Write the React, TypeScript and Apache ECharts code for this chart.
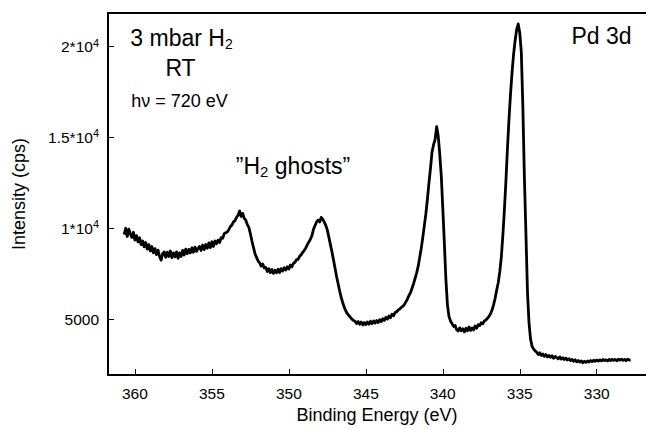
import React, { useEffect, useRef } from "react";
import * as echarts from "echarts";

// Pd 3d photoemission spectrum: [binding energy (eV), intensity (cps)]
const spectrum: [number, number][] = [
  [360.7, 9650], [360.6, 10000], [360.5, 9550], [360.4, 9950], [360.3, 9700], [360.2, 9500], [360.1, 9780], [360.0, 9350], [359.9, 9600], [359.8, 9250],
  [359.7, 9480], [359.6, 9100], [359.5, 9300], [359.4, 8980], [359.3, 9220], [359.2, 8850], [359.1, 9100], [359.0, 8750], [358.9, 9000], [358.8, 8650],
  [358.7, 8880], [358.6, 8550], [358.5, 8800], [358.4, 8450], [358.3, 8250], [358.2, 8600], [358.1, 8700], [358.0, 8400], [357.9, 8680], [357.8, 8450],
  [357.7, 8750], [357.6, 8380], [357.5, 8650], [357.4, 8430], [357.3, 8700], [357.2, 8350], [357.1, 8650], [357.0, 8450], [356.9, 8780], [356.8, 8530],
  [356.7, 8850], [356.6, 8600], [356.5, 8840], [356.4, 8650], [356.3, 8920], [356.2, 8680], [356.1, 8960], [356.0, 8730], [355.9, 8900], [355.8, 9000],
  [355.7, 8780], [355.6, 9070], [355.5, 8830], [355.4, 9110], [355.3, 8900], [355.2, 9200], [355.1, 8940], [355.0, 9260], [354.9, 9000], [354.8, 9300],
  [354.7, 9150], [354.6, 9350], [354.5, 9220], [354.4, 9480], [354.3, 9450], [354.2, 9700], [354.1, 9760], [354.0, 9800], [353.9, 9920], [353.8, 10100],
  [353.7, 10180], [353.6, 10350], [353.5, 10420], [353.4, 10600], [353.3, 10720], [353.2, 10950], [353.1, 10650], [353.0, 10820], [352.9, 10550], [352.8, 10450],
  [352.7, 10200], [352.6, 10050], [352.5, 9700], [352.4, 9300], [352.3, 8950], [352.2, 8600], [352.1, 8400], [352.0, 8200], [351.9, 8100], [351.8, 7920],
  [351.7, 8030], [351.6, 7820], [351.5, 7850], [351.4, 7620], [351.3, 7780], [351.2, 7560], [351.1, 7730], [351.0, 7520], [350.9, 7690], [350.8, 7550],
  [350.7, 7750], [350.6, 7570], [350.5, 7780], [350.4, 7650], [350.3, 7830], [350.2, 7700], [350.1, 7880], [350.0, 7760], [349.9, 7980], [349.8, 7880],
  [349.7, 8080], [349.6, 8130], [349.5, 8280], [349.4, 8290], [349.3, 8470], [349.2, 8540], [349.1, 8680], [349.0, 8790], [348.9, 8920], [348.8, 9100],
  [348.7, 9250], [348.6, 9400], [348.5, 9600], [348.4, 9950], [348.3, 10150], [348.2, 10350], [348.1, 10450], [348.0, 10350], [347.9, 10600], [347.8, 10500],
  [347.7, 10350], [347.6, 10150], [347.5, 9900], [347.4, 9500], [347.3, 9100], [347.2, 8700], [347.1, 8250], [347.0, 7800], [346.9, 7350], [346.8, 6950],
  [346.7, 6550], [346.6, 6200], [346.5, 5900], [346.4, 5650], [346.3, 5450], [346.2, 5300], [346.1, 5200], [346.0, 5100], [345.9, 5000], [345.8, 4920],
  [345.7, 4880], [345.6, 4760], [345.5, 4870], [345.4, 4720], [345.3, 4840], [345.2, 4680], [345.1, 4810], [345.0, 4700], [344.9, 4840], [344.8, 4720],
  [344.7, 4880], [344.6, 4750], [344.5, 4900], [344.4, 4780], [344.3, 4920], [344.2, 4810], [344.1, 4970], [344.0, 4860], [343.9, 5020], [343.8, 4930],
  [343.7, 5100], [343.6, 5000], [343.5, 5170], [343.4, 5080], [343.3, 5270], [343.2, 5190], [343.1, 5360], [343.0, 5400], [342.9, 5500], [342.8, 5550],
  [342.7, 5650], [342.6, 5700], [342.5, 5800], [342.4, 5950], [342.3, 6100], [342.2, 6300], [342.1, 6450], [342.0, 6700], [341.9, 6950], [341.8, 7250],
  [341.7, 7550], [341.6, 7900], [341.5, 8400], [341.4, 8900], [341.3, 9500], [341.2, 10150], [341.1, 10800], [341.0, 11600], [340.9, 12500], [340.8, 13300],
  [340.7, 14200], [340.6, 14600], [340.5, 14900], [340.4, 15600], [340.3, 15100], [340.2, 14100], [340.1, 12900], [340.0, 11100], [339.9, 9200], [339.8, 7200],
  [339.7, 5800], [339.6, 5150], [339.5, 4900], [339.4, 4750], [339.3, 4600], [339.2, 4650], [339.1, 4420], [339.0, 4350], [338.9, 4520], [338.8, 4360],
  [338.7, 4470], [338.6, 4300], [338.5, 4500], [338.4, 4360], [338.3, 4570], [338.2, 4380], [338.1, 4520], [338.0, 4400], [337.9, 4620], [337.8, 4500],
  [337.7, 4700], [337.6, 4650], [337.5, 4800], [337.4, 4750], [337.3, 4900], [337.2, 4950], [337.1, 5050], [337.0, 5150], [336.9, 5300], [336.8, 5500],
  [336.7, 5800], [336.6, 6150], [336.5, 6600], [336.4, 7000], [336.3, 7600], [336.2, 8400], [336.1, 9600], [336.0, 11000], [335.9, 12600], [335.8, 14400],
  [335.7, 16000], [335.6, 17400], [335.5, 18600], [335.4, 19600], [335.3, 20350], [335.2, 20950], [335.1, 21250], [335.0, 20750], [334.9, 19700], [334.8, 16700],
  [334.7, 12800], [334.6, 9700], [334.5, 6500], [334.4, 4800], [334.3, 3900], [334.2, 3500], [334.1, 3350], [334.0, 3250], [333.9, 3180], [333.8, 3050],
  [333.7, 3150], [333.6, 3000], [333.5, 3080], [333.4, 2950], [333.3, 3050], [333.2, 2920], [333.1, 3000], [333.0, 2900], [332.9, 2980], [332.8, 2850],
  [332.7, 2950], [332.6, 2880], [332.5, 2820], [332.4, 2920], [332.3, 2800], [332.2, 2880], [332.1, 2780], [332.0, 2850], [331.9, 2750], [331.8, 2820],
  [331.7, 2720], [331.6, 2780], [331.5, 2680], [331.4, 2760], [331.3, 2650], [331.2, 2720], [331.1, 2640], [331.0, 2700], [330.9, 2600], [330.8, 2680],
  [330.7, 2620], [330.6, 2700], [330.5, 2640], [330.4, 2720], [330.3, 2660], [330.2, 2740], [330.1, 2680], [330.0, 2750], [329.9, 2690], [329.8, 2760],
  [329.7, 2700], [329.6, 2780], [329.5, 2720], [329.4, 2760], [329.3, 2700], [329.2, 2780], [329.1, 2720], [329.0, 2790], [328.9, 2730], [328.8, 2780],
  [328.7, 2710], [328.6, 2790], [328.5, 2740], [328.4, 2800], [328.3, 2730], [328.2, 2780], [328.1, 2720], [328.0, 2790], [327.9, 2750], [327.8, 2760],
];

// Axis extents and tick marks
const energyRange = [326.8, 361.75];
const intensityRange = [1920, 21850];
const energyTicks = [360, 355, 350, 345, 340, 335, 330];
const intensityTicks = [5000, 10000, 15000, 20000];
const intensityTickLabels = ["{b|5000}", "{b|1*10}{s|4}", "{b|1.5*10}{s|4}", "{b|2*10}{s|4}"];

const FONT = "'Liberation Sans', Arial, Helvetica, sans-serif";

export default function App() {
  const ref = useRef<HTMLDivElement>(null);

  useEffect(() => {
    document.body.style.margin = "0";
    if (!ref.current) return;
    const chart = echarts.init(ref.current, undefined, { renderer: "svg" });

    const text = (
      x: number,
      y: number,
      content: string,
      size: number,
      rich?: Record<string, any>
    ) => ({
      type: "text",
      x,
      y,
      silent: true,
      style: {
        text: content,
        fill: "#000",
        fontSize: size,
        fontFamily: FONT,
        align: "center",
        verticalAlign: "middle",
        rich,
      },
    });

    chart.setOption({
      animation: false,
      backgroundColor: "#fff",
      grid: { left: 108, top: 13, right: 0, bottom: 51.7 },
      xAxis: [
        {
          type: "value",
          inverse: true,
          min: energyRange[0],
          max: energyRange[1],
          name: "Binding Energy (eV)",
          nameLocation: "middle",
          nameGap: 30,
          nameTextStyle: { fontSize: 18, fontFamily: FONT, color: "#000" },
          axisLine: { show: true, onZero: false, lineStyle: { color: "#000", width: 2 } },
          axisTick: {
            show: true,
            inside: true,
            length: 6,
            customValues: energyTicks,
            lineStyle: { color: "#000", width: 1 },
          },
          axisLabel: {
            customValues: energyTicks,
            margin: 10,
            fontSize: 15.5,
            fontFamily: FONT,
            color: "#000",
          },
          splitLine: { show: false },
        },
        {
          type: "value",
          position: "top",
          inverse: true,
          min: energyRange[0],
          max: energyRange[1],
          axisLine: { show: true, onZero: false, lineStyle: { color: "#000", width: 2 } },
          axisTick: { show: false },
          axisLabel: { show: false },
          splitLine: { show: false },
        },
      ],
      yAxis: {
        type: "value",
        min: intensityRange[0],
        max: intensityRange[1],
        name: "Intensity (cps)",
        nameLocation: "middle",
        nameRotate: 90,
        nameGap: 80,
        nameTextStyle: { fontSize: 18, fontFamily: FONT, color: "#000" },
        axisLine: { show: true, onZero: false, lineStyle: { color: "#000", width: 2 } },
        axisTick: {
          show: true,
          inside: true,
          length: 6,
          customValues: intensityTicks,
          lineStyle: { color: "#000", width: 1 },
        },
        axisLabel: {
          customValues: intensityTicks,
          margin: 9,
          color: "#000",
          formatter: (v: number) => intensityTickLabels[intensityTicks.indexOf(v)] ?? "",
          rich: {
            b: { fontSize: 15.5, fontFamily: FONT, color: "#000", verticalAlign: "middle" },
            s: {
              fontSize: 11,
              fontFamily: FONT,
              color: "#000",
              verticalAlign: "middle",
              padding: [0, 0, 8, 0],
            },
          },
        },
        splitLine: { show: false },
      },
      series: [
        {
          type: "line",
          data: spectrum,
          showSymbol: false,
          symbol: "none",
          lineStyle: { color: "#000", width: 2.8, join: "round" },
          silent: true,
        },
      ],
      graphic: [
        text(181.5, 37.5, "{m|3 mbar H}{s|2}", 23, {
          m: { fontSize: 23, fontFamily: FONT, fill: "#000", verticalAlign: "middle" },
          s: { fontSize: 14, fontFamily: FONT, fill: "#000", verticalAlign: "middle", padding: [13, 0, 0, 0] },
        }),
        text(180.5, 68, "RT", 23),
        text(179.5, 100.5, "h\u03bd = 720 eV", 18),
        text(601.5, 36, "Pd 3d", 23),
        text(293, 165.8, "{m|\u201dH}{s|2}{m| ghosts\u201d}", 23, {
          m: { fontSize: 23, fontFamily: FONT, fill: "#000", verticalAlign: "middle" },
          s: { fontSize: 15, fontFamily: FONT, fill: "#000", verticalAlign: "middle", padding: [12, 0, 0, 0] },
        }),
      ],
    });

    return () => chart.dispose();
  }, []);

  return (
    <div
      ref={ref}
      style={{ position: "absolute", left: 0, top: 0, width: 646, height: 429 }}
    />
  );
}
